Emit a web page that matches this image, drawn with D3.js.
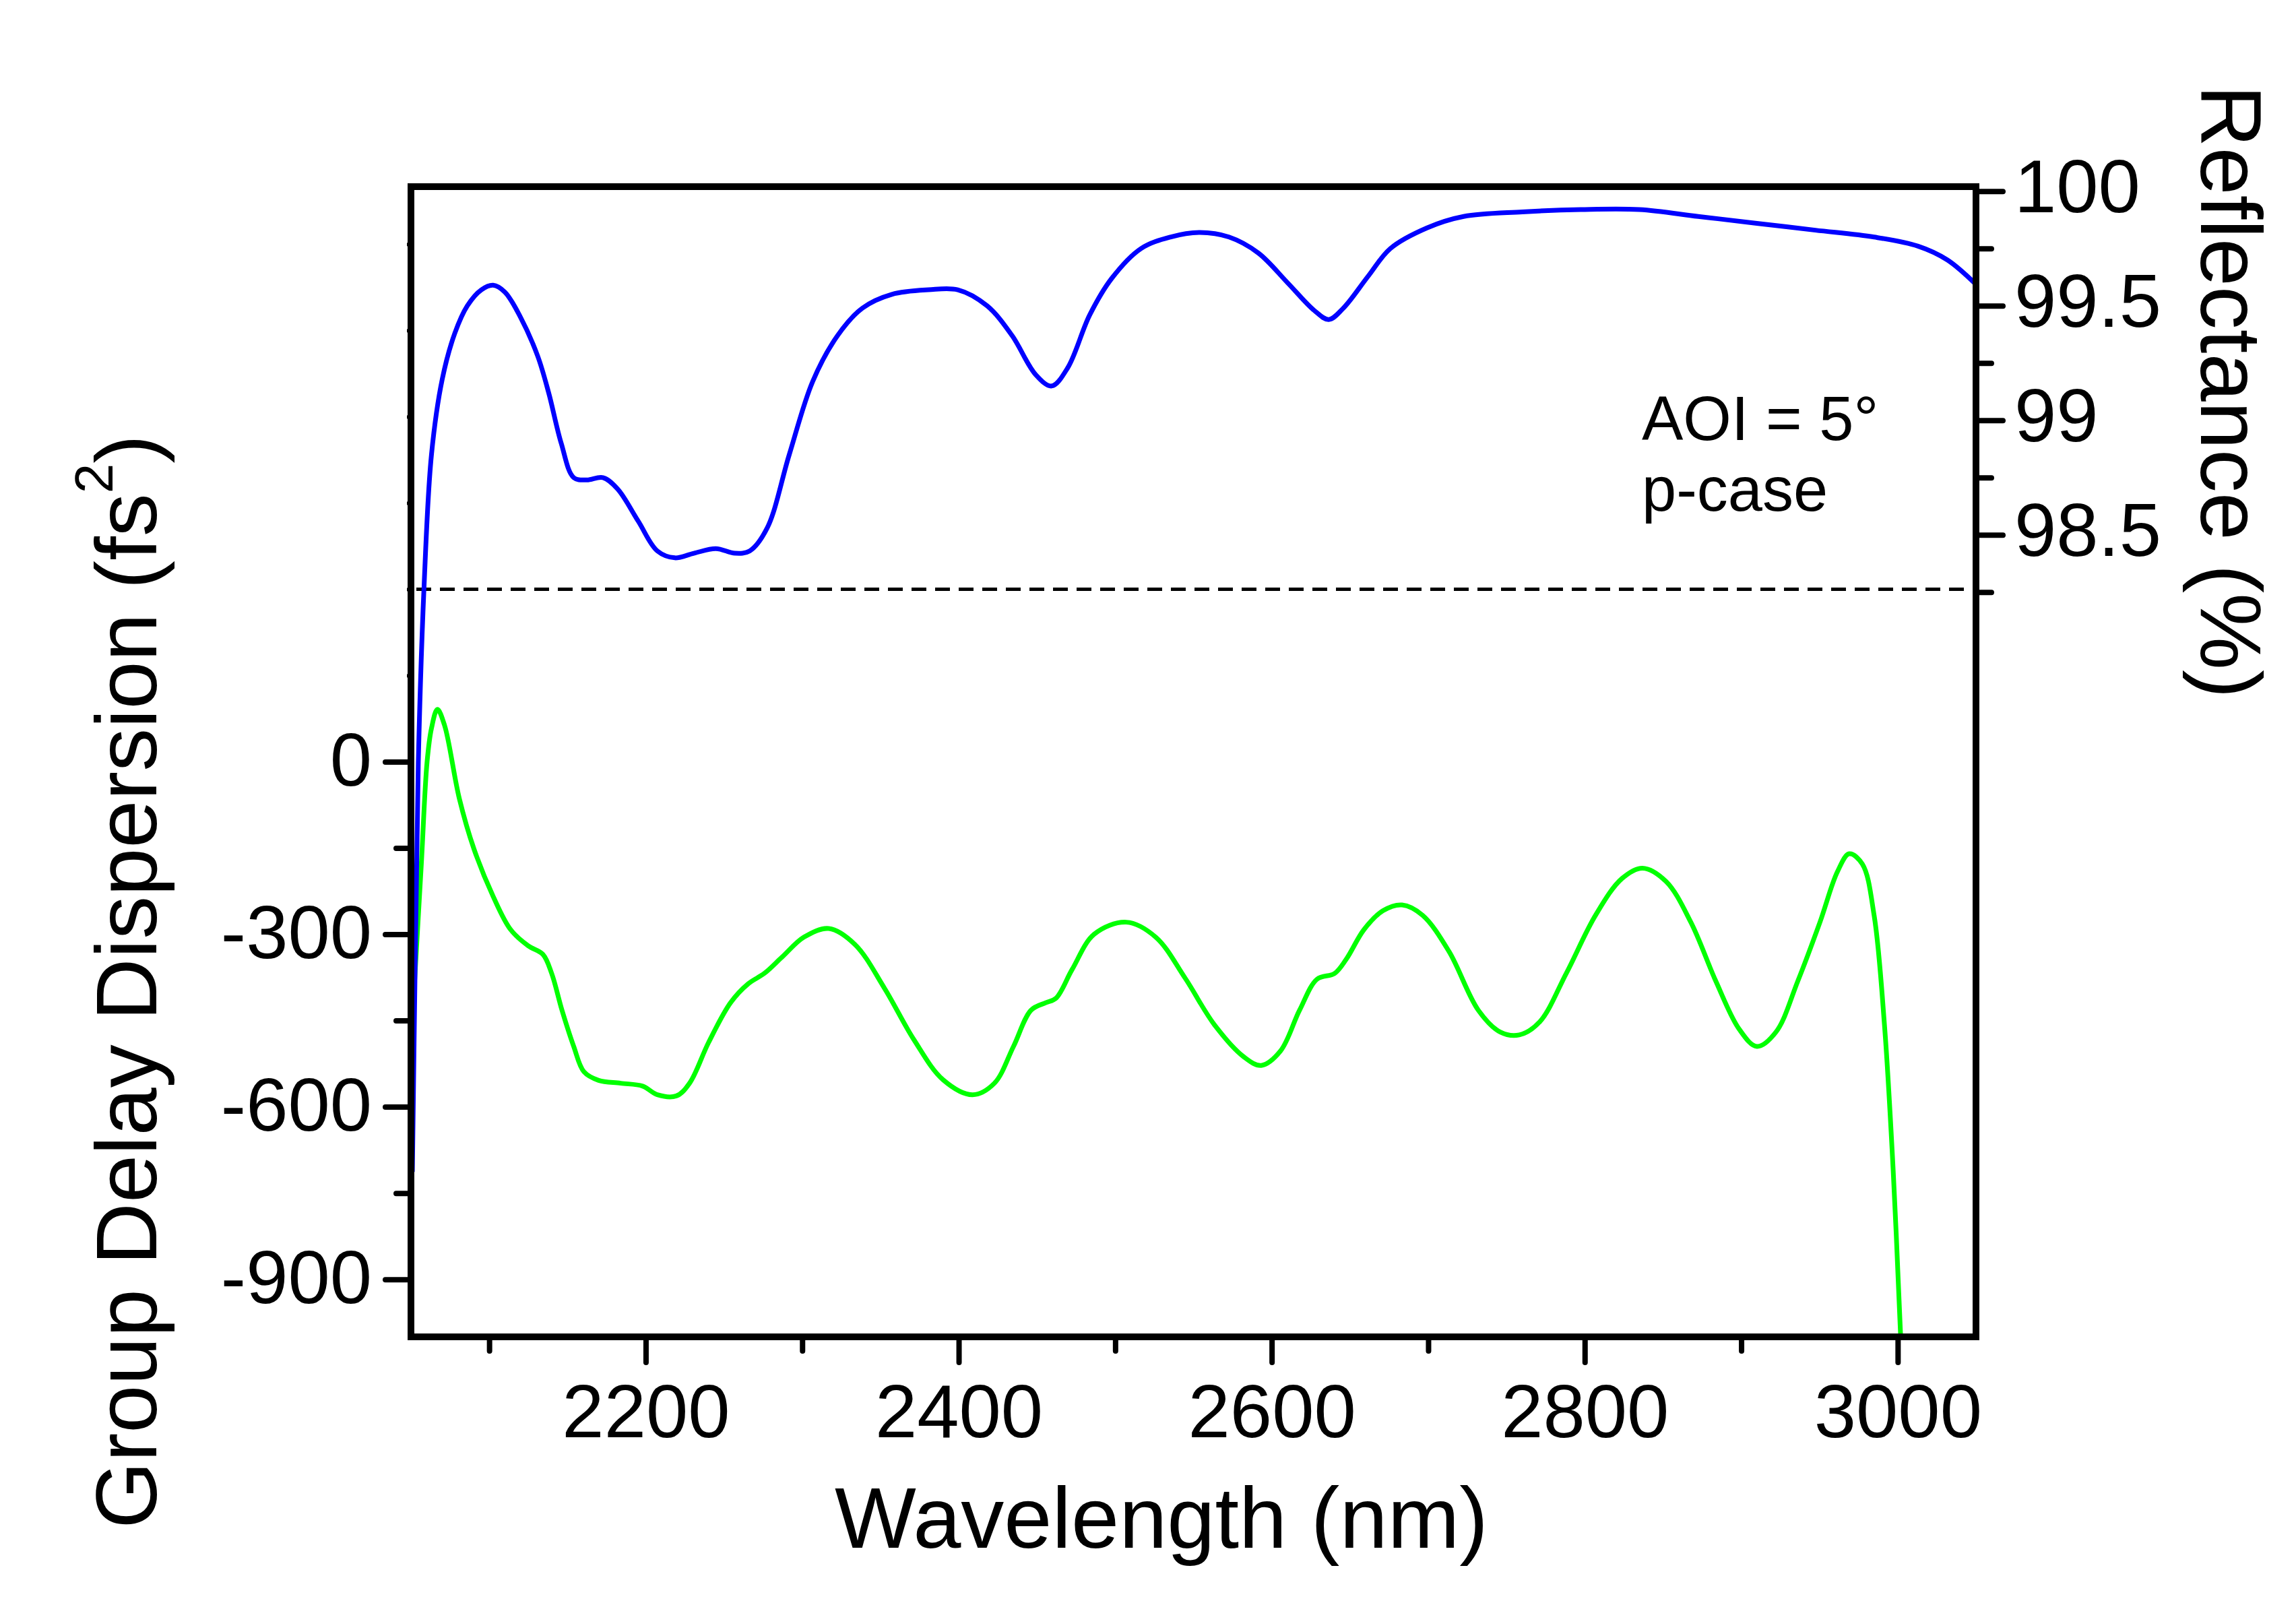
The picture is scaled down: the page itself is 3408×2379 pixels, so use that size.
<!DOCTYPE html>
<html>
<head>
<meta charset="utf-8">
<script src="https://cdn.jsdelivr.net/npm/d3@7"></script>
<style>
  html, body { margin: 0; padding: 0; background: #fff; }
  svg { display: block; font-family: "Liberation Sans", Arial, sans-serif; }
</style>
</head>
<body>
<svg id="chart" width="3408" height="2379"></svg>
<script>
// ---- Data ----
const wavelengthReflectance = [2050.9,2052.8,2054.7,2058.4,2063.1,2070,2078,2086,2095,2102.5,2110,2120,2131,2138,2146,2154,2162.4,2172.7,2182.1,2195.2,2207.4,2218.6,2230.8,2244.8,2257,2266.4,2277.6,2291.7,2306.7,2322.6,2338.5,2357.3,2380.7,2399.4,2418.1,2434.1,2449.1,2459.4,2469.7,2483.7,2497.8,2516.5,2535.2,2554,2572.7,2591.5,2610.2,2627.1,2636.4,2645.8,2661.7,2675.8,2699.2,2722.6,2760.1,2797.5,2835,2872.5,2910,2947.4,2984.9,3013,3031.7,3050.5];
const reflectance = [95.72,96.68,97.51,98.28,98.85,99.18,99.38,99.50,99.57,99.59,99.56,99.45,99.28,99.12,98.90,98.75,98.74,98.75,98.70,98.56,98.43,98.40,98.42,98.44,98.42,98.43,98.53,98.85,99.17,99.37,99.49,99.55,99.57,99.57,99.50,99.37,99.20,99.15,99.23,99.46,99.62,99.75,99.80,99.82,99.80,99.73,99.60,99.48,99.44,99.49,99.63,99.75,99.84,99.89,99.91,99.92,99.92,99.89,99.86,99.83,99.80,99.76,99.70,99.59];

const wavelengthGDD = [2051.5,2056.6,2060.3,2063.1,2066.9,2071.5,2080.9,2090.3,2102.5,2113.7,2124.9,2134.3,2139.9,2146.5,2154,2160.5,2169.9,2184,2198,2207.4,2219.6,2228,2240.2,2254.2,2265.5,2275.8,2287,2301.1,2317,2333.8,2352.6,2371.3,2390,2408.8,2422.8,2435,2446.2,2455.6,2462.2,2472.5,2486.5,2507.1,2525.9,2544.6,2563.3,2582.1,2593.3,2605.6,2617.8,2629,2640.2,2647.7,2658.9,2671.1,2683.3,2696.4,2713.3,2732,2746,2758.2,2771.3,2788.2,2806.9,2823.8,2836.9,2851.9,2867.8,2883.7,2898.7,2910,2922.2,2936.2,2950.3,2961.5,2969,2977.4,2984.9,2991.5,2997.1,3001.8,3003.5];
const gdd = [-420,-179,0,58,91,63,-64,-152,-234,-292,-320,-335,-368,-432,-495,-539,-554,-559,-564,-579,-581,-559,-488,-419,-386,-368,-340,-305,-290,-318,-394,-483,-553,-579,-559,-495,-432,-419,-411,-361,-300,-279,-305,-376,-457,-513,-528,-503,-432,-378,-368,-343,-292,-259,-249,-267,-330,-432,-470,-475,-452,-368,-267,-203,-185,-208,-279,-381,-465,-495,-470,-381,-279,-191,-160,-178,-267,-457,-711,-996,-1100];

const xMajorTicks = [2200, 2400, 2600, 2800, 3000];
const xMinorTicks = [2100, 2300, 2500, 2700, 2900];
const gddMajorTicks = [-900, -600, -300, 0];
const gddMinorTicks = [-750, -450, -150];
const gddHiddenTicks = [150, 300, 450, 600, 750, 900];
const reflMajorTicks = [98.5, 99, 99.5, 100];
const reflMinorTicks = [98.25, 98.75, 99.25, 99.75];
const dashedLevelGDD = 300;

const xTitle = "Wavelength (nm)";
const leftTitleMain = "Group Delay Dispersion (fs";
const leftTitleSup = "2";
const rightTitle = "Reflectance (%)";
const noteLines = ["AOI = 5°", "p-case"];

// ---- Layout ----
const L = 610, R = 2933, T = 277, B = 1984;
const svg = d3.select("#chart");

const x = d3.scaleLinear().domain([2050, 3050]).range([L, R]);
const yL = d3.scaleLinear().domain([-1000, 1000]).range([B, T]);
const yR = d3.scaleLinear().domain([95, 100.02]).range([B, T]);

svg.append("defs").append("clipPath").attr("id", "plotclip")
  .append("rect").attr("x", L).attr("y", T).attr("width", R - L).attr("height", B - T);

const tickFont = 112;

function styleAxis(g) {
  g.select(".domain").remove();
  g.selectAll(".tick line").attr("stroke", "#000").attr("stroke-width", 8).attr("stroke-linecap", "round");
  g.selectAll(".tick text").attr("fill", "#000").style("font-size", tickFont + "px")
    .style("font-family", '"Liberation Sans", Arial, sans-serif');
}

// Bottom axis
svg.append("g").attr("transform", `translate(0,${B})`)
  .call(d3.axisBottom(x).tickValues(xMajorTicks).tickSize(38).tickPadding(31).tickFormat(d3.format("d")))
  .call(styleAxis);
svg.append("g").attr("transform", `translate(0,${B})`)
  .call(d3.axisBottom(x).tickValues(xMinorTicks).tickSize(21).tickFormat(""))
  .call(styleAxis);

// Left axis
svg.append("g").attr("transform", `translate(${L},0)`)
  .call(d3.axisLeft(yL).tickValues(gddMajorTicks).tickSize(38).tickPadding(20).tickFormat(d => String(d)))
  .call(styleAxis)
  .call(g => g.selectAll(".tick text").attr("dy", "0.31em"));
svg.append("g").attr("transform", `translate(${L},0)`)
  .call(d3.axisLeft(yL).tickValues(gddMinorTicks).tickSize(22).tickFormat(""))
  .call(styleAxis);
svg.append("g").attr("transform", `translate(${L},0)`)
  .call(d3.axisLeft(yL).tickValues(gddHiddenTicks).tickSize(6).tickFormat(""))
  .call(styleAxis)
  .call(g => g.selectAll(".tick line").attr("stroke-width", 5).attr("stroke-linecap", "butt"));

// Right axis
svg.append("g").attr("transform", `translate(${R},0)`)
  .call(d3.axisRight(yR).tickValues(reflMajorTicks).tickSize(40).tickPadding(17).tickFormat(d3.format("~g")))
  .call(styleAxis)
  .call(g => g.selectAll(".tick text").attr("dy", "0.27em"));
svg.append("g").attr("transform", `translate(${R},0)`)
  .call(d3.axisRight(yR).tickValues(reflMinorTicks).tickSize(23).tickFormat(""))
  .call(styleAxis);

// Dashed level line
svg.append("line")
  .attr("x1", L + 8).attr("x2", R - 6)
  .attr("y1", yL(dashedLevelGDD)).attr("y2", yL(dashedLevelGDD))
  .attr("stroke", "#000").attr("stroke-width", 5).attr("stroke-dasharray", "22,13");

// Curves
const plot = svg.append("g").attr("clip-path", "url(#plotclip)");
const gddLine = d3.line().x((d, i) => x(wavelengthGDD[i])).y(d => yL(d)).curve(d3.curveCatmullRom.alpha(0.5));
const reflLine = d3.line().x((d, i) => x(wavelengthReflectance[i])).y(d => yR(d)).curve(d3.curveCatmullRom.alpha(0.5));

plot.append("path").datum(gdd).attr("d", gddLine)
  .attr("fill", "none").attr("stroke", "#00ff00").attr("stroke-width", 7).attr("stroke-linejoin", "round");
plot.append("path").datum(reflectance).attr("d", reflLine)
  .attr("fill", "none").attr("stroke", "#0000ff").attr("stroke-width", 7).attr("stroke-linejoin", "round");

// Frame
svg.append("rect").attr("x", L).attr("y", T).attr("width", R - L).attr("height", B - T)
  .attr("fill", "none").attr("stroke", "#000").attr("stroke-width", 10);

// Titles
svg.append("text").attr("x", 1724).attr("y", 2297).attr("text-anchor", "middle")
  .style("font-size", "128px").attr("fill", "#000").text(xTitle);

const lt = svg.append("text").attr("transform", "translate(232,1457) rotate(-90)")
  .attr("text-anchor", "middle").style("font-size", "128px").attr("fill", "#000");
lt.append("tspan").text(leftTitleMain);
lt.append("tspan").attr("dy", -65).style("font-size", "80px").text(leftTitleSup);
lt.append("tspan").attr("dy", 65).text(")");

svg.append("text").attr("transform", "translate(3267,126) rotate(90)")
  .attr("text-anchor", "start").style("font-size", "128px").attr("fill", "#000").text(rightTitle);

// Annotation
svg.append("text").attr("x", 2437).attr("y", 653).style("font-size", "92px").attr("fill", "#000").text(noteLines[0]);
svg.append("text").attr("x", 2437).attr("y", 758).style("font-size", "92px").attr("fill", "#000").text(noteLines[1]);
</script>
</body>
</html>
